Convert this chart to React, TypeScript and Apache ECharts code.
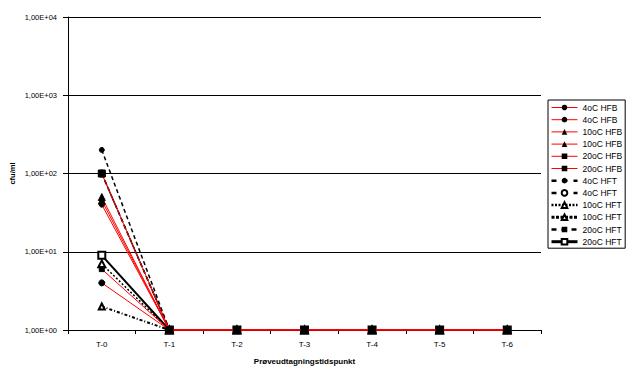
import React, { useEffect, useRef } from "react";
import * as echarts from "echarts";

const categories = ["T-0", "T-1", "T-2", "T-3", "T-4", "T-5", "T-6"];
const seriesNames = [
  "4oC HFB", "4oC HFB", "10oC HFB", "10oC HFB", "20oC HFB", "20oC HFB",
  "4oC HFT", "4oC HFT", "10oC HFT", "10oC HFT", "20oC HFT", "20oC HFT",
];
const s4HFB_a = [4, 1, 1, 1, 1, 1, 1];
const s4HFB_b = [40, 1, 1, 1, 1, 1, 1];
const s10HFB_a = [50, 1, 1, 1, 1, 1, 1];
const s10HFB_b = [45, 1, 1, 1, 1, 1, 1];
const s20HFB_a = [100, 1, 1, 1, 1, 1, 1];
const s20HFB_b = [6, 1, 1, 1, 1, 1, 1];
const s4HFT_a = [200, 1, 1, 1, 1, 1, 1];
const s4HFT_b = [100, 1, 1, 1, 1, 1, 1];
const s10HFT_a = [7, 1, 1, 1, 1, 1, 1];
const s10HFT_b = [2, 1, 1, 1, 1, 1, 1];
const s20HFT_a = [100, 1, 1, 1, 1, 1, 1];
const s20HFT_b = [9, 1, 1, 1, 1, 1, 1];
const seriesData = [
  s4HFB_a, s4HFB_b, s10HFB_a, s10HFB_b, s20HFB_a, s20HFB_b,
  s4HFT_a, s4HFT_b, s10HFT_a, s10HFT_b, s20HFT_a, s20HFT_b,
];
const symbols = [
  "circle", "circle", "triangle", "triangle", "rect", "rect",
  "circle", "emptyCircle", "emptyTriangle", "emptyTriangle", "rect", "emptyRect",
];
const symbolSizes = [6, 5, 7, 7, 7, 5, 5, 6, 7, 6, 4, 7];
const lineColors = ["#ff0000", "#ff0000", "#ff0000", "#ff0000", "#ff0000", "#ff0000",
  "#000", "#000", "#000", "#000", "#000", "#000"];
const lineTypes: any[] = ["solid", "solid", "solid", "solid", "solid", "solid",
  [4, 3], [4, 3], [2, 2], [3, 2, 1, 2], [5, 3], "solid"];
const lineWidths = [1, 1, 1, 1, 1, 1, 1.5, 1.5, 1.5, 2, 1.5, 2];
const legendLineTypes: any[] = ["solid", "solid", "solid", "solid", "solid", "solid",
  [5, 6], [5, 6], [2, 1.5], [3, 1.5], [5, 5], "solid"];
const legendLineWidths = [1, 1, 1, 1, 1, 1, 2.5, 2.5, 2.5, 3, 2.5, 3];

export default function App() {
  const ref = useRef<HTMLDivElement>(null);
  useEffect(() => {
    const chart = echarts.init(ref.current!, null, { renderer: "svg" });
    const font = "Liberation Sans, Arial, sans-serif";
    const nm = (i: number) => seriesNames[i] + (i % 2 === 1 ? "\u200B" : "");
    chart.setOption({
      animation: false,
      textStyle: { fontFamily: font },
      grid: { left: 64, right: 88, top: 17, bottom: 37 },
      legend: {
        orient: "vertical",
        left: 548,
        top: 100,
        padding: [3, 3, 2, 2],
        itemGap: 3.2,
        itemWidth: 26,
        itemHeight: 7,
        borderColor: "#000",
        borderWidth: 1,
        backgroundColor: "#fff",
        inactiveColor: "#000",
        textStyle: { fontSize: 8.5, color: "#000" },
        data: seriesNames.map((n, i) => ({
          name: nm(i),
          textStyle: { color: "#000" },
          lineStyle: { width: legendLineWidths[i], type: legendLineTypes[i], color: lineColors[i] },
        })),
      },
      xAxis: {
        type: "category",
        data: categories,
        boundaryGap: true,
        name: "Prøveudtagningstidspunkt",
        nameLocation: "middle",
        nameGap: 27,
        nameMoveOverlap: false,
        nameTextStyle: { fontSize: 8, fontWeight: "bold", color: "#000" },
        axisLine: { lineStyle: { color: "#000", width: 1 } },
        axisTick: { show: true, length: 4, lineStyle: { color: "#000" } },
        axisLabel: { fontSize: 8, color: "#000", margin: 10 },
      },
      yAxis: {
        type: "log",
        logBase: 10,
        min: 1,
        max: 10000,
        name: "cfu/ml",
        nameLocation: "middle",
        nameGap: 52,
        nameMoveOverlap: false,
        nameTextStyle: { fontSize: 7.5, fontWeight: "bold", color: "#000" },
        axisLine: { show: true, lineStyle: { color: "#000", width: 1 } },
        axisTick: { show: true, length: 5, lineStyle: { color: "#000" } },
        axisLabel: {
          fontSize: 7.5,
          color: "#000",
          margin: 11,
          formatter: (v: number) => {
            const e = Math.round(Math.log10(v));
            return "1,00E+" + (e < 10 ? "0" : "") + e;
          },
        },
        splitLine: { show: true, lineStyle: { color: "#000", width: 1 } },
      },
      series: seriesData.map((d, i) => ({
        name: nm(i),
        type: "line",
        data: d,
        symbol: symbols[i],
        symbolSize: symbolSizes[i],
        itemStyle: { color: "#000", borderColor: "#000" },
        lineStyle: { color: lineColors[i], type: lineTypes[i], width: lineWidths[i] },
        z: i < 6 ? 3 : 2,
      })),
    });
    return () => chart.dispose();
  }, []);
  return <div ref={ref} style={{ width: 629, height: 370, position: "absolute", left: 0, top: 0 }} />;
}
